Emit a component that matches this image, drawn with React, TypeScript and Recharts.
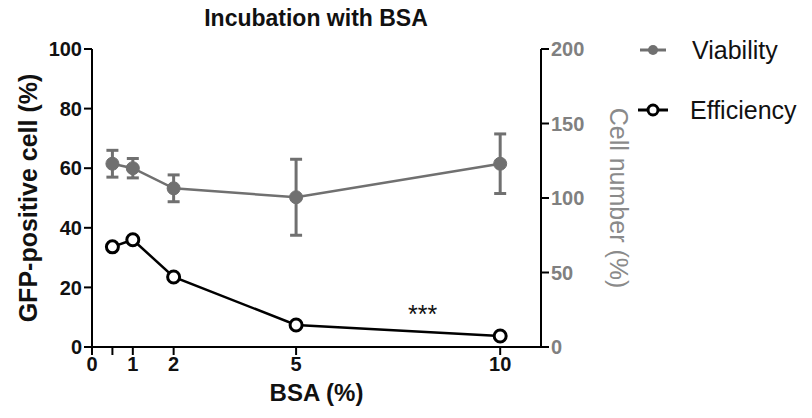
import React from 'react';
import {
  ComposedChart, Line, XAxis, YAxis, ErrorBar, ReferenceDot, Legend,
} from 'recharts';

const bsa = [0.5, 1, 2, 5, 10];
const viability = [123, 120, 106.5, 100.5, 123];
const viabilityErr = [9, 6.5, 9, 25.5, 20];
const efficiency = [33.6, 36, 23.5, 7.4, 3.7];
const xTicks = [0, 0.5, 1, 2, 5, 10];
const leftTicks = [0, 20, 40, 60, 80, 100];
const rightTicks = [0, 50, 100, 150, 200];

const data = bsa.map((x, i) => ({
  bsa: x,
  viability: viability[i],
  vErr: viabilityErr[i],
  efficiency: efficiency[i],
}));

const FONT = '"Liberation Sans", Arial, Helvetica, sans-serif';
const GREY = '#707070';

const LegendContent = () => (
  <div style={{ fontFamily: FONT, fontSize: 25, color: '#111' }}>
    <div style={{ display: 'flex', alignItems: 'center', height: 30 }}>
      <svg width={40} height={20} style={{ marginRight: 18 }}>
        <line x1={6} y1={10} x2={32} y2={10} stroke={GREY} strokeWidth={3} />
        <circle cx={19} cy={10} r={5} fill={GREY} />
      </svg>
      <span>Viability</span>
    </div>
    <div style={{ display: 'flex', alignItems: 'center', height: 30, marginTop: 30 }}>
      <svg width={40} height={20} style={{ marginRight: 16 }}>
        <line x1={4} y1={10} x2={34} y2={10} stroke="#000" strokeWidth={3} />
        <circle cx={19} cy={10} r={5} fill="#fff" stroke="#000" strokeWidth={3} />
      </svg>
      <span>Efficiency</span>
    </div>
  </div>
);

export default function App() {
  return (
    <div style={{ position: 'absolute', left: 0, top: 0, width: 812, height: 418, background: '#fff' }}>
      <ComposedChart
        width={812}
        height={418}
        data={data}
        margin={{ top: 49, right: 191, bottom: 15, left: 32 }}
        style={{ fontFamily: FONT }}
      >
        <text x={316} y={26} textAnchor="middle" fontFamily={FONT} fontWeight="bold" fontSize={23} fill="#111">
          Incubation with BSA
        </text>
        <XAxis
          dataKey="bsa"
          type="number"
          domain={[0, 11]}
          ticks={xTicks}
          tickFormatter={(v: number) => (v === 0.5 ? '' : String(v))}
          axisLine={{ stroke: '#000', strokeWidth: 2 }}
          tickLine={{ stroke: '#000', strokeWidth: 2 }}
          tickSize={8}
          tick={{ fill: '#111', fontSize: 20, fontWeight: 'bold' }}
          height={56}
          label={{ value: 'BSA (%)', position: 'insideBottom', offset: 2, style: { fontSize: 24, fontWeight: 'bold', fill: '#111' } }}
        />
        <YAxis
          yAxisId="left"
          domain={[0, 100]}
          ticks={leftTicks}
          width={60}
          axisLine={{ stroke: '#000', strokeWidth: 2 }}
          tickLine={{ stroke: '#000', strokeWidth: 2 }}
          tickSize={8}
          tick={{ fill: '#111', fontSize: 20, fontWeight: 'bold' }}
          label={{ value: 'GFP-positive cell (%)', angle: -90, position: 'insideLeft', offset: -4, style: { textAnchor: 'middle', fontSize: 25, fontWeight: 'bold', fill: '#111' } }}
        />
        <YAxis
          yAxisId="right"
          orientation="right"
          domain={[0, 200]}
          ticks={rightTicks}
          width={80}
          axisLine={{ stroke: '#000', strokeWidth: 2 }}
          tickLine={{ stroke: '#000', strokeWidth: 2 }}
          tickSize={8}
          tick={{ fill: '#808080', fontSize: 20, fontWeight: 'bold' }}
          label={{ value: 'Cell number (%)', angle: 90, position: 'insideRight', offset: 2, style: { textAnchor: 'middle', fontSize: 25, fill: '#8a8a8a' } }}
        />
        <Legend
          layout="vertical"
          align="center"
          verticalAlign="middle"
          content={<LegendContent />}
          wrapperStyle={{ position: 'absolute', left: 634, top: 35, width: 178 }}
        />
        <Line
          yAxisId="right"
          dataKey="viability"
          name="Viability"
          stroke={GREY}
          strokeWidth={2.5}
          dot={{ r: 6.5, fill: GREY, stroke: GREY, strokeWidth: 1 }}
          isAnimationActive={false}
        >
          <ErrorBar dataKey="vErr" direction="y" width={6} stroke={GREY} strokeWidth={3} />
        </Line>
        <Line
          yAxisId="left"
          dataKey="efficiency"
          name="Efficiency"
          stroke="#000"
          strokeWidth={2.5}
          dot={{ r: 6, fill: '#fff', stroke: '#000', strokeWidth: 3 }}
          isAnimationActive={false}
        />
        <ReferenceDot
          yAxisId="left"
          x={8.1}
          y={11}
          r={0}
          label={{ value: '***', position: 'center', style: { fontSize: 25, fill: '#111' } }}
        />
      </ComposedChart>
    </div>
  );
}
